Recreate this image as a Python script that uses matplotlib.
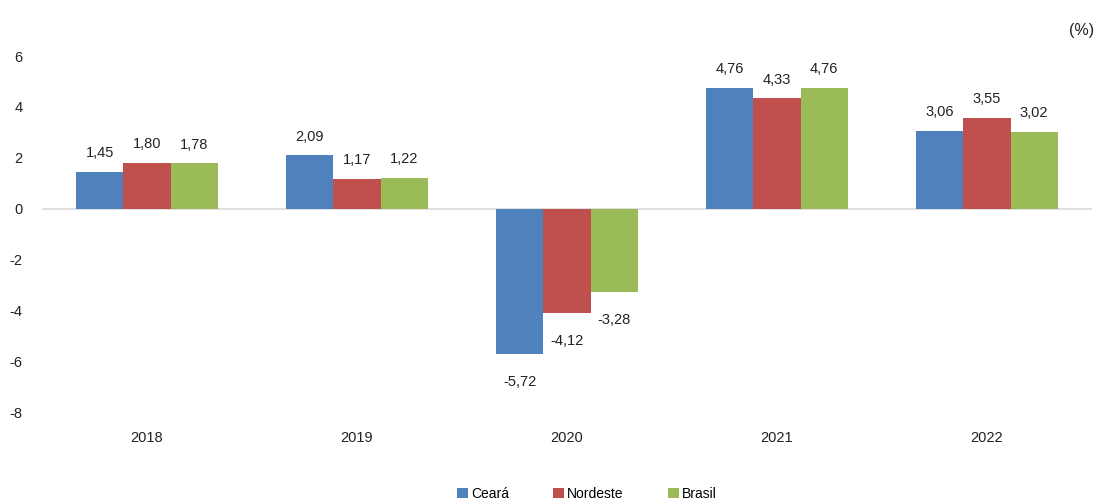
import matplotlib
matplotlib.use("Agg")
import matplotlib.pyplot as plt
import numpy as np

years = ["2018", "2019", "2020", "2021", "2022"]
series_names = ["Ceará", "Nordeste", "Brasil"]
ceara = [1.45, 2.09, -5.72, 4.76, 3.06]
nordeste = [1.80, 1.17, -4.12, 4.33, 3.55]
brasil = [1.78, 1.22, -3.28, 4.76, 3.02]
yticks = [6, 4, 2, 0, -2, -4, -6, -8]

colors = ["#4F81BD", "#C0504D", "#9BBB59"]
plt.rcParams['font.family'] = ['Liberation Sans', 'DejaVu Sans']

fig = plt.figure(figsize=(11.04, 5.04), dpi=100)
ax = fig.add_axes([42/1104, 1-412/504, (1092-42)/1104, (412-56)/504])

x = np.arange(len(years))
w = 0.224
data = [ceara, nordeste, brasil]
for i, (vals, name, c) in enumerate(zip(data, series_names, colors)):
    pos = x + (i - 1) * w
    bars = ax.bar(pos, vals, width=w, color=c, label=name, zorder=2)
    for p, v in zip(pos, vals):
        lbl = f"{v:.2f}".replace(".", ",")
        if v >= 0:
            ax.annotate(lbl, (p, v), xytext=(0, 8.5), textcoords="offset points",
                        ha="center", va="bottom", fontsize=10.5, color="#222222")
        else:
            ax.annotate(lbl, (p, v), xytext=(0, -15), textcoords="offset points",
                        ha="center", va="top", fontsize=10.5, color="#222222")

ax.axhline(0, color="#D9D9D9", lw=1.2, zorder=1)
ax.set_xlim(-0.5, len(years) - 0.5)
ax.set_ylim(-8, 6)
ax.set_yticks(yticks)
ax.set_yticklabels([str(t) for t in yticks], fontsize=10.5, color="#222222")
ax.set_xticks(x)
ax.set_xticklabels(years, fontsize=10.5, color="#222222")
ax.tick_params(axis="both", length=0)
ax.tick_params(axis="y", pad=14)
ax.tick_params(axis="x", pad=14)
for s in ax.spines.values():
    s.set_visible(False)

fig.text(1082/1104, 1-30/504, "(%)", ha="center", va="center", fontsize=11.5, color="#222222")

leg = fig.legend(loc="center", bbox_to_anchor=(587/1104, 1-494/504), ncol=3, frameon=False,
                 fontsize=10, handlelength=0.8, handleheight=0.8, handletextpad=0.2,
                 columnspacing=3.2)

fig.savefig("out.png", dpi=100)
